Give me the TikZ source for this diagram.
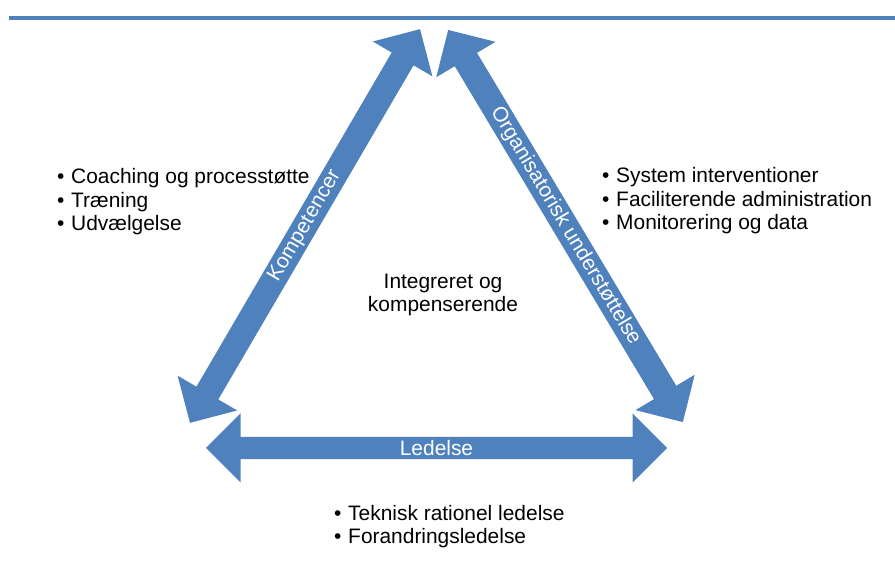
\documentclass[tikz,border=0pt]{standalone}
\usepackage{fontspec}
\setmainfont{Liberation Sans}
\usepackage{tikz}
\usetikzlibrary{shapes.arrows}

\definecolor{arrowblue}{HTML}{4F81BD}
\newcommand{\diagfont}{\fontsize{21}{24}\selectfont}
\newcommand{\bul}{\textbullet\hspace{6.7bp}}

\tikzset{
	bigarrow/.style={double arrow, fill=arrowblue, draw=none, minimum width=69bp,
		double arrow head extend=16.5bp, inner sep=0pt, outer sep=0pt, text=white, font=\diagfont},
	bullets/.style={align=left, inner sep=0pt, anchor=base west, font=\diagfont},
}

\begin{document}
\begin{tikzpicture}[x=1bp, y=1bp]
	\useasboundingbox (0,0) rectangle (895,562);
	\draw[arrowblue, line width=3.7bp] (9,544.3) -- (895,544.3);
	% the three sides
	\node[bigarrow, minimum height=456bp, rotate=59.7] (komp) at (305,336) {Kompetencer};
	\node[bigarrow, minimum height=457bp, rotate=-59.1] (org) at (565.5,336) {Organisatorisk understøttelse};
	\node[bigarrow, minimum height=461bp] (led) at (436.5,114) {Ledelse};
	% middle (base = last line)
	\node[align=center, inner sep=0pt, anchor=base, font=\diagfont] (mid) at (443,250) {Integreret og\\kompenserende};
	% lists
	\node[bullets] (kompliste) at (57,331) {\bul Coaching og processtøtte\\\bul Træning\\\bul Udvælgelse};
	\node[bullets] (orgliste) at (602,332) {\bul System interventioner\\\bul Faciliterende administration\\\bul Monitorering og data};
	\node[bullets] (ledliste) at (334,18) {\bul Teknisk rationel ledelse\\\bul Forandringsledelse};
\end{tikzpicture}
\end{document}
